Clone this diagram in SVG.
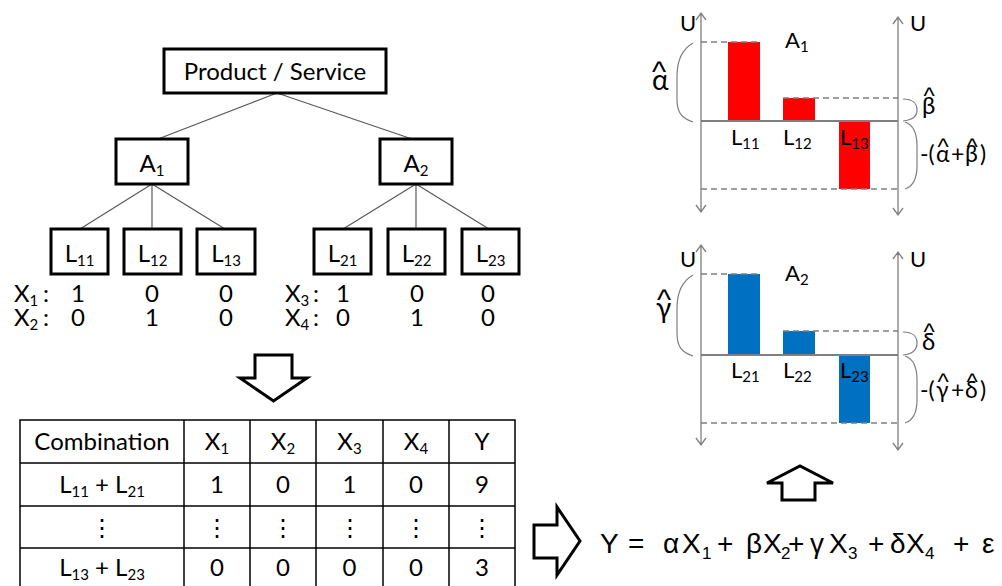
<svg xmlns="http://www.w3.org/2000/svg" width="1002" height="586" viewBox="0 0 1002 586">
<style>
  text { font-family: Lato, "Noto Sans", "Liberation Sans", sans-serif; fill: #000; }
  .box { fill: #fff; stroke: #000; stroke-width: 3; }
  .edge { stroke: #595959; stroke-width: 1.2; fill: none; }
  .t28 { font-size: 28px; }
  .t24 { font-size: 24px; }
  .t23 { font-size: 23px; }
  .t22 { font-size: 22px; }
  .sub { font-size: 15px; }
  .mid { text-anchor: middle; }
  .grid { stroke: #000; stroke-width: 1.5; fill: none; }
  .axis { stroke: #7f7f7f; stroke-width: 1.3; fill: none; }
  .base { stroke: #7f7f7f; stroke-width: 1.8; fill: none; }
  .dash { stroke: #7f7f7f; stroke-width: 1.3; stroke-dasharray: 6 4; fill: none; }
  .brace { stroke: #7f7f7f; stroke-width: 1.2; fill: none; }
  .hat { font-family: "Liberation Sans", sans-serif; font-size: 24px; }
  .hatL { font-family: "Liberation Sans", sans-serif; font-size: 30px; }
  .block { fill: #fff; stroke: #000; stroke-width: 3; stroke-linejoin: miter; }
  .eq { font-family: "Liberation Sans", sans-serif; font-size: 28px; }
  .eqs { font-family: "Liberation Sans", sans-serif; font-size: 17px; }
  .red { fill: #ff0000; }
  .blue { fill: #0070c0; }
</style>

<!-- attribute tree: edges -->
<g id="tree-edges">
  <line class="edge" x1="277" y1="93" x2="158" y2="139"/>
  <line class="edge" x1="277" y1="93" x2="412" y2="139"/>
  <line class="edge" x1="152" y1="184" x2="80" y2="229"/>
  <line class="edge" x1="152" y1="184" x2="152" y2="229"/>
  <line class="edge" x1="152" y1="184" x2="225" y2="229"/>
  <line class="edge" x1="416" y1="184" x2="343" y2="229"/>
  <line class="edge" x1="416" y1="184" x2="416" y2="229"/>
  <line class="edge" x1="416" y1="184" x2="489" y2="229"/>
</g>

<g id="node-root">
  <rect class="box" x="164" y="49" width="222" height="44"/>
  <text class="t24 mid" x="275" y="80">Product / Service</text>
</g>
<g id="node-a1">
  <rect class="box" x="116" y="139" width="72" height="45"/>
  <text class="t24 mid" x="152" y="172">A<tspan class="sub" dy="4">1</tspan></text>
</g>
<g id="node-a2">
  <rect class="box" x="380" y="139" width="72" height="45"/>
  <text class="t24 mid" x="416" y="172">A<tspan class="sub" dy="4">2</tspan></text>
</g>
<g id="node-l11">
  <rect class="box" x="51" y="229" width="57" height="45"/>
  <text class="t24 mid" x="79.5" y="262">L<tspan class="sub" dy="4">11</tspan></text>
</g>
<g id="node-l12">
  <rect class="box" x="124" y="229" width="57" height="45"/>
  <text class="t24 mid" x="152.5" y="262">L<tspan class="sub" dy="4">12</tspan></text>
</g>
<g id="node-l13">
  <rect class="box" x="197" y="229" width="58" height="45"/>
  <text class="t24 mid" x="226" y="262">L<tspan class="sub" dy="4">13</tspan></text>
</g>
<g id="node-l21">
  <rect class="box" x="314" y="229" width="57" height="45"/>
  <text class="t24 mid" x="342.5" y="262">L<tspan class="sub" dy="4">21</tspan></text>
</g>
<g id="node-l22">
  <rect class="box" x="388" y="229" width="57" height="45"/>
  <text class="t24 mid" x="416.5" y="262">L<tspan class="sub" dy="4">22</tspan></text>
</g>
<g id="node-l23">
  <rect class="box" x="462" y="229" width="57" height="45"/>
  <text class="t24 mid" x="490.5" y="262">L<tspan class="sub" dy="4">23</tspan></text>
</g>

<!-- dummy coding of the levels -->
<g id="coding">
  <text class="t24" x="14" y="302">X<tspan class="sub" dy="4">1</tspan></text>
  <text class="t24" x="43" y="302">:</text>
  <text class="t24 mid" x="78" y="302">1</text>
  <text class="t24 mid" x="152" y="302">0</text>
  <text class="t24 mid" x="226" y="302">0</text>
  <text class="t24" x="14" y="326">X<tspan class="sub" dy="4">2</tspan></text>
  <text class="t24" x="43" y="326">:</text>
  <text class="t24 mid" x="78" y="326">0</text>
  <text class="t24 mid" x="152" y="326">1</text>
  <text class="t24 mid" x="226" y="326">0</text>

  <text class="t24" x="285" y="302">X<tspan class="sub" dy="4">3</tspan></text>
  <text class="t24" x="313" y="302">:</text>
  <text class="t24 mid" x="343" y="302">1</text>
  <text class="t24 mid" x="417" y="302">0</text>
  <text class="t24 mid" x="488" y="302">0</text>
  <text class="t24" x="285" y="326">X<tspan class="sub" dy="4">4</tspan></text>
  <text class="t24" x="313" y="326">:</text>
  <text class="t24 mid" x="343" y="326">0</text>
  <text class="t24 mid" x="417" y="326">1</text>
  <text class="t24 mid" x="488" y="326">0</text>
</g>

<!-- block arrows -->
<g id="arrows">
  <polygon class="block" points="255,355 292,355 292,378 307,378 273.5,401 240,378 255,378"/>
  <polygon class="block" points="534,525 557,525 557,507 580,541 557,575 557,558 534,558"/>
  <polygon class="block" points="782,500 782,483 767,483 800,466 833,483 815,483 815,500"/>
</g>

<!-- combination table -->
<g id="table">
  <rect class="grid" x="20" y="420" width="495" height="172"/>
  <line class="grid" x1="20" y1="463" x2="515" y2="463"/>
  <line class="grid" x1="20" y1="506" x2="515" y2="506"/>
  <line class="grid" x1="20" y1="548" x2="515" y2="548"/>
  <line class="grid" x1="184" y1="420" x2="184" y2="592"/>
  <line class="grid" x1="250" y1="420" x2="250" y2="592"/>
  <line class="grid" x1="316" y1="420" x2="316" y2="592"/>
  <line class="grid" x1="383" y1="420" x2="383" y2="592"/>
  <line class="grid" x1="449" y1="420" x2="449" y2="592"/>

  <text class="t24 mid" x="102" y="450">Combination</text>
  <text class="t24 mid" x="217" y="450">X<tspan class="sub" dy="4">1</tspan></text>
  <text class="t24 mid" x="283" y="450">X<tspan class="sub" dy="4">2</tspan></text>
  <text class="t24 mid" x="349.5" y="450">X<tspan class="sub" dy="4">3</tspan></text>
  <text class="t24 mid" x="416" y="450">X<tspan class="sub" dy="4">4</tspan></text>
  <text class="t24 mid" x="482" y="450">Y</text>

  <text class="t24 mid" x="102" y="493">L<tspan class="sub" dy="4">11</tspan><tspan dy="-4"> + L</tspan><tspan class="sub" dy="4">21</tspan></text>
  <text class="t24 mid" x="217" y="493">1</text>
  <text class="t24 mid" x="283" y="493">0</text>
  <text class="t24 mid" x="349.5" y="493">1</text>
  <text class="t24 mid" x="416" y="493">0</text>
  <text class="t24 mid" x="482" y="493">9</text>

  <text class="t24 mid" x="102" y="536">⋮</text>
  <text class="t24 mid" x="217" y="536">⋮</text>
  <text class="t24 mid" x="283" y="536">⋮</text>
  <text class="t24 mid" x="349.5" y="536">⋮</text>
  <text class="t24 mid" x="416" y="536">⋮</text>
  <text class="t24 mid" x="482" y="536">⋮</text>

  <text class="t24 mid" x="102" y="576">L<tspan class="sub" dy="4">13</tspan><tspan dy="-4"> + L</tspan><tspan class="sub" dy="4">23</tspan></text>
  <text class="t24 mid" x="217" y="576">0</text>
  <text class="t24 mid" x="283" y="576">0</text>
  <text class="t24 mid" x="349.5" y="576">0</text>
  <text class="t24 mid" x="416" y="576">0</text>
  <text class="t24 mid" x="482" y="576">3</text>
</g>

<!-- regression model -->
<g id="equation">
  <text class="eq" y="553"><tspan x="600">Y</tspan><tspan x="628">=</tspan><tspan x="663">α</tspan><tspan x="682">X</tspan><tspan x="717">+</tspan><tspan x="746">β</tspan><tspan x="763">X</tspan><tspan x="788">+</tspan><tspan x="810">γ</tspan><tspan x="829">X</tspan><tspan x="868">+</tspan><tspan x="890">δ</tspan><tspan x="906">X</tspan><tspan x="953">+</tspan><tspan x="982">ε</tspan></text>
  <text class="eqs" y="559"><tspan x="702">1</tspan><tspan x="781">2</tspan><tspan x="848">3</tspan><tspan x="925">4</tspan></text>
</g>

<!-- part-worth chart for attribute A1 -->
<g id="chart-a1">
  <rect class="red" x="728" y="42" width="32" height="79"/>
  <rect class="red" x="783" y="98" width="32" height="23"/>
  <rect class="red" x="839" y="121" width="31" height="68"/>
  <line class="dash" x1="701" y1="42" x2="760" y2="42"/>
  <line class="dash" x1="783" y1="98" x2="898" y2="98"/>
  <line class="dash" x1="701" y1="189" x2="898" y2="189"/>
  <line class="base" x1="701" y1="121" x2="898" y2="121"/>
  <path class="axis" d="M701,13 V212 M696,20 L701,13 L706,20 M696,205 L701,212 L706,205"/>
  <path class="axis" d="M898,17 V215 M893,24 L898,17 L903,24 M893,208 L898,215 L903,208"/>
  <path class="brace" d="M693,43 C681,50 677,62 677,76 L677,99 C677,112 681,118 693,122"/>
  <path class="brace" d="M903,99 C913,99 917,104 917,110 C917,116 913,120 903,121"/>
  <path class="brace" d="M905,122 C914,125 917,135 917,146 L917,166 C917,178 914,186 905,189"/>
  <text class="t22" x="680" y="31">U</text>
  <text class="t22" x="910" y="31">U</text>
  <text class="t22" x="785" y="48">A<tspan class="sub" dy="4">1</tspan></text>
  <text class="t22" x="731" y="145">L<tspan class="sub" dy="4">11</tspan></text>
  <text class="t22" x="783" y="145">L<tspan class="sub" dy="4">12</tspan></text>
  <text class="t22" x="840" y="145">L<tspan class="sub" dy="4">13</tspan></text>
  <text class="t28"><tspan x="652" y="90">α</tspan><tspan class="hatL" x="652" y="82">^</tspan></text>
  <text class="t24"><tspan x="922" y="114">β</tspan><tspan class="hat" x="923.5" y="104">^</tspan></text>
  <text class="t23" y="162"><tspan x="920">-(</tspan><tspan x="936">α</tspan><tspan x="951">+</tspan><tspan x="965">β</tspan><tspan x="980">)</tspan><tspan class="hat" x="937.5" y="155">^</tspan><tspan class="hat" x="966.5" y="155">^</tspan></text>
</g>

<!-- part-worth chart for attribute A2 -->
<g id="chart-a2">
  <rect class="blue" x="728" y="274" width="32" height="81"/>
  <rect class="blue" x="783" y="331" width="32" height="24"/>
  <rect class="blue" x="839" y="355" width="31" height="68"/>
  <line class="dash" x1="701" y1="274" x2="760" y2="274"/>
  <line class="dash" x1="783" y1="331" x2="898" y2="331"/>
  <line class="dash" x1="701" y1="423" x2="898" y2="423"/>
  <line class="base" x1="701" y1="355" x2="898" y2="355"/>
  <path class="axis" d="M701,245 V445 M696,252 L701,245 L706,252 M696,438 L701,445 L706,438"/>
  <path class="axis" d="M898,252 V450 M893,259 L898,252 L903,259 M893,443 L898,450 L903,443"/>
  <path class="brace" d="M693,275 C681,282 677,294 677,308 L677,333 C677,346 681,352 693,356"/>
  <path class="brace" d="M903,332 C913,332 917,337 917,343 C917,349 913,354 903,355"/>
  <path class="brace" d="M905,356 C914,359 917,369 917,380 L917,400 C917,412 914,420 905,423"/>
  <text class="t22" x="680" y="267">U</text>
  <text class="t22" x="910" y="267">U</text>
  <text class="t22" x="785" y="281">A<tspan class="sub" dy="4">2</tspan></text>
  <text class="t22" x="731" y="378">L<tspan class="sub" dy="4">21</tspan></text>
  <text class="t22" x="783" y="378">L<tspan class="sub" dy="4">22</tspan></text>
  <text class="t22" x="840" y="378">L<tspan class="sub" dy="4">23</tspan></text>
  <text class="t28"><tspan x="656" y="318">γ</tspan><tspan class="hatL" x="657" y="310">^</tspan></text>
  <text class="t24"><tspan x="922" y="350">δ</tspan><tspan class="hat" x="923.5" y="340">^</tspan></text>
  <text class="t23" y="398"><tspan x="920">-(</tspan><tspan x="936">γ</tspan><tspan x="951">+</tspan><tspan x="965">δ</tspan><tspan x="980">)</tspan><tspan class="hat" x="937.5" y="390">^</tspan><tspan class="hat" x="966.5" y="390">^</tspan></text>
</g>
</svg>
